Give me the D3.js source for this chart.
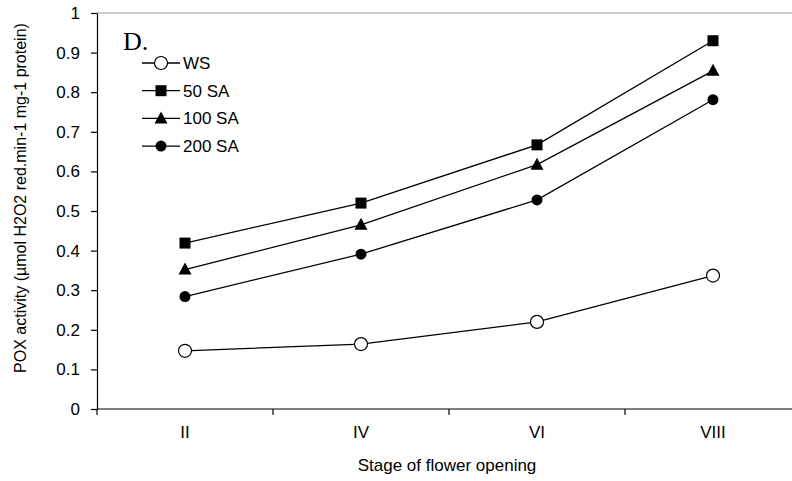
<!DOCTYPE html>
<html>
<head>
<meta charset="utf-8">
<script src="https://cdn.jsdelivr.net/npm/d3@7"></script>
<style>
  body { margin: 0; background: #fff; }
  text { font-family: "Liberation Sans", Arial, sans-serif; fill: #000; }
</style>
</head>
<body>
<div id="chart"></div>
<script>
var stages = ["II", "IV", "VI", "VIII"];
var yTicks = [0, 0.1, 0.2, 0.3, 0.4, 0.5, 0.6, 0.7, 0.8, 0.9, 1];
var ws = [0.147, 0.164, 0.220, 0.337];
var sa50 = [0.419, 0.520, 0.667, 0.930];
var sa100 = [0.352, 0.465, 0.617, 0.854];
var sa200 = [0.284, 0.391, 0.528, 0.781];
var seriesNames = ["WS", "50 SA", "100 SA", "200 SA"];

var series = [
    { name: seriesNames[0], values: ws, shape: "open" },
    { name: seriesNames[1], values: sa50, shape: "square" },
    { name: seriesNames[2], values: sa100, shape: "triangle" },
    { name: seriesNames[3], values: sa200, shape: "circle" }
];

var W = 792, H = 481;
var margin = { top: 13, left: 97, bottom: 72 };
var plotH = H - margin.top - margin.bottom;
var fontSize = "17px";

var svg = d3.select("#chart").append("svg")
    .attr("width", W)
    .attr("height", H);

var x = d3.scaleBand()
    .domain(stages)
    .range([margin.left, margin.left + 4 * 176])
    .paddingInner(0).paddingOuter(0);

var y = d3.scaleLinear()
    .domain([0, 1])
    .range([margin.top + plotH, margin.top]);

// top frame line
svg.append("line")
    .attr("x1", margin.left).attr("x2", W)
    .attr("y1", y(1)).attr("y2", y(1))
    .attr("stroke", "#9a9a9a").attr("stroke-width", 1.2);

// y axis
var yAxis = svg.append("g")
    .attr("transform", "translate(" + margin.left + ",0)")
    .call(d3.axisLeft(y).tickValues(yTicks).tickFormat(d => String(d))
        .tickSize(6).tickSizeOuter(0).tickPadding(11));
yAxis.selectAll("text").style("font-size", fontSize)
    .style("font-family", "'Liberation Sans', Arial, sans-serif");
yAxis.selectAll("line, path").attr("stroke", "#000").attr("stroke-width", 1.2);

// x axis (labels at band centres, ticks at band edges)
var xAxis = svg.append("g")
    .attr("transform", "translate(0," + y(0) + ")")
    .call(d3.axisBottom(x).tickSize(0).tickPadding(17));
xAxis.selectAll("text").style("font-size", fontSize)
    .style("font-family", "'Liberation Sans', Arial, sans-serif");
xAxis.select(".domain").attr("stroke", "#000").attr("stroke-width", 1.2)
    .attr("d", "M" + margin.left + ",0H" + W);
var edges = stages.map(s => x(s)).concat([x.range()[1]]);
xAxis.selectAll(".edge")
    .data(edges)
    .enter().append("line")
    .attr("class", "edge")
    .attr("x1", d => d).attr("x2", d => d)
    .attr("y1", 0).attr("y2", 6)
    .attr("stroke", "#000").attr("stroke-width", 1.2);

// axis titles
svg.append("text")
    .attr("x", 447).attr("y", 471)
    .attr("text-anchor", "middle")
    .style("font-size", fontSize)
    .text("Stage of flower opening");

svg.append("text")
    .attr("transform", "translate(26,198) rotate(-90)")
    .attr("text-anchor", "middle")
    .style("font-size", "16px")
    .text("POX activity (µmol H2O2 red.min-1 mg-1 protein)");

// panel letter
svg.append("text")
    .attr("x", 123).attr("y", 50)
    .style("font-family", "'Liberation Serif', 'Times New Roman', serif")
    .style("font-size", "26px")
    .text("D.");

function drawMarker(g, shape) {
    if (shape === "open") {
        g.append("circle").attr("r", 6.5)
            .attr("fill", "#fff").attr("stroke", "#000").attr("stroke-width", 1.2);
    } else if (shape === "circle") {
        g.append("circle").attr("r", 5.5).attr("fill", "#000");
    } else if (shape === "square") {
        g.append("rect").attr("x", -5.5).attr("y", -5.5)
            .attr("width", 11).attr("height", 11).attr("fill", "#000");
    } else if (shape === "triangle") {
        g.append("path").attr("d", "M0,-7L6.5,5L-6.5,5Z").attr("fill", "#000");
    }
}

var line = d3.line()
    .x((d, i) => x(stages[i]) + x.bandwidth() / 2)
    .y(d => y(d));

series.forEach(function (s) {
    svg.append("path")
        .datum(s.values)
        .attr("d", line)
        .attr("fill", "none")
        .attr("stroke", "#000")
        .attr("stroke-width", 1.3);
    s.values.forEach(function (v, i) {
        var g = svg.append("g")
            .attr("transform", "translate(" + (x(stages[i]) + x.bandwidth() / 2) + "," + y(v) + ")");
        drawMarker(g, s.shape);
    });
});

// legend
var legend = svg.append("g").attr("transform", "translate(142,63)");
series.forEach(function (s, i) {
    var row = legend.append("g").attr("transform", "translate(0," + (i * 27.7) + ")");
    row.append("line")
        .attr("x1", 0).attr("x2", 38)
        .attr("stroke", "#000").attr("stroke-width", 1.3);
    var m = row.append("g").attr("transform", "translate(19,0)");
    drawMarker(m, s.shape);
    row.append("text")
        .attr("x", 41).attr("y", 6)
        .style("font-size", fontSize)
        .text(s.name);
});
</script>
</body>
</html>
